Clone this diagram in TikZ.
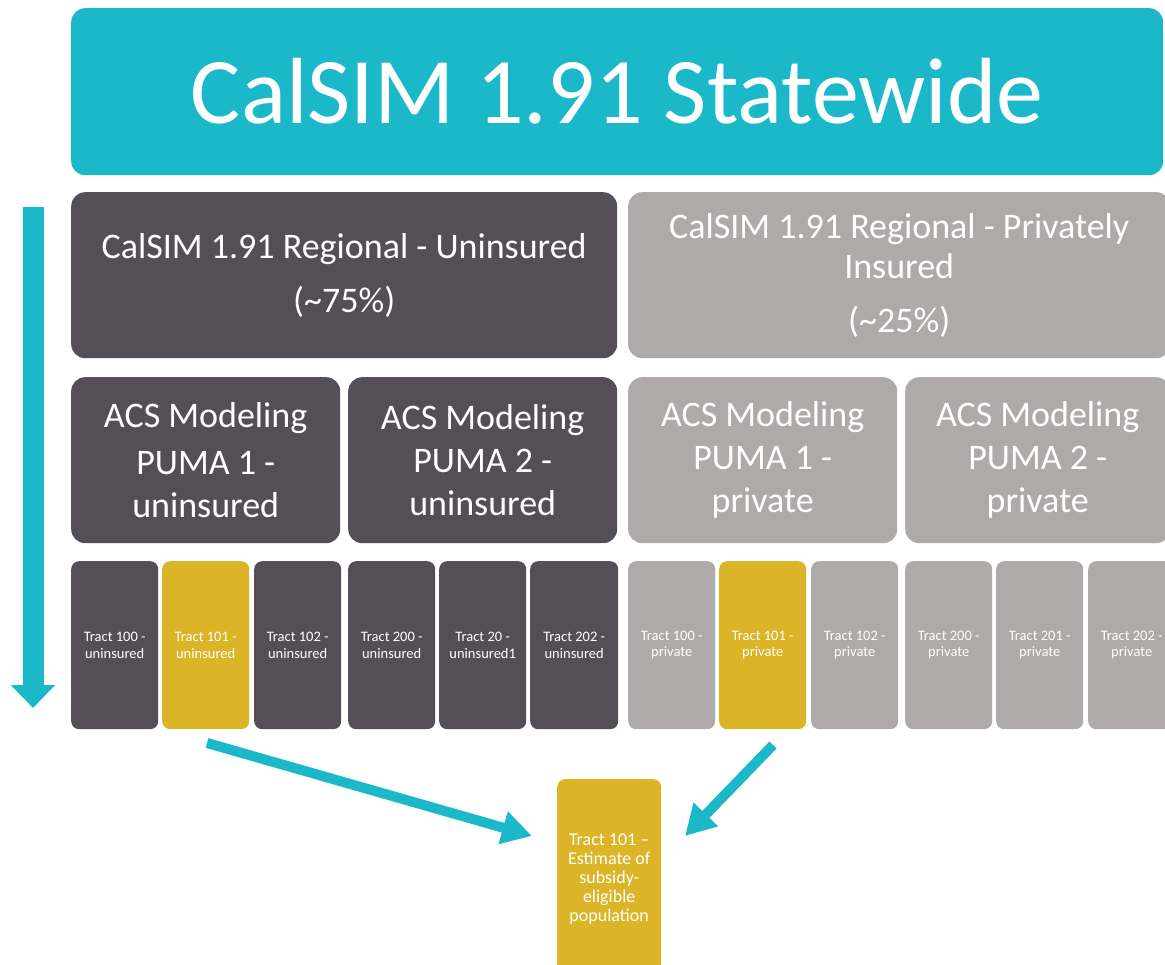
\documentclass[tikz,border=0pt]{standalone}
\usepackage{fontspec}
\setmainfont{Carlito}
\usetikzlibrary{arrows.meta}
\definecolor{teal}{HTML}{1BB8C9}
\definecolor{darkbox}{HTML}{544E56}
\definecolor{graybox}{HTML}{ADAAA9}
\definecolor{gold}{HTML}{DBB527}
\tikzset{
  box/.style={anchor=north west, rounded corners=14pt, text=white, align=center, inner sep=0pt},
  tract/.style={box, rounded corners=8pt, minimum width=87pt, minimum height=168pt,
    font=\fontsize{14.5}{16.5}\selectfont},
  acs/.style={box, minimum width=269pt, minimum height=166pt, font=\fontsize{36}{43}\selectfont},
  reg/.style={box, minimum height=166pt, font=\fontsize{36}{40}\selectfont},
  flow/.style={draw=teal, line width=10pt, -{Triangle[length=30pt,width=32pt]}},
}
\begin{document}
\begin{tikzpicture}[x=1pt,y=-1pt]
\useasboundingbox (0,0) rectangle (1165,965);
\clip (0,0) rectangle (1165,965);
% title
\node[box, fill=teal, minimum width=1092pt, minimum height=167pt,
  font=\fontsize{94}{100}\selectfont] (title) at (71,8) {CalSIM 1.91 Statewide};
% regional
\node[reg, fill=darkbox, minimum width=546pt] (ru) at (71,192)
  {CalSIM 1.91 Regional - Uninsured\\[14pt](\textasciitilde75\%)};
\node[reg, fill=graybox, minimum width=542pt] (rp) at (628,192)
  {CalSIM 1.91 Regional - Privately\\Insured\\[14pt](\textasciitilde25\%)};
% ACS
\node[acs, fill=darkbox] (a1) at (71,377) {ACS Modeling\\[4pt]PUMA 1 -\\uninsured};
\node[acs, fill=darkbox] (a2) at (348,377) {ACS Modeling\\PUMA 2 -\\uninsured};
\node[acs, fill=graybox] (a3) at (628,377) {ACS Modeling\\PUMA 1 -\\private};
\node[acs, fill=graybox, minimum width=265pt] (a4) at (905,377) {ACS Modeling\\PUMA 2 -\\private};
% tracts
\node[tract, fill=darkbox] (t1) at (71,561) {Tract 100 -\\uninsured};
\node[tract, fill=gold] (t2) at (162,561) {Tract 101 -\\uninsured};
\node[tract, fill=darkbox] (t3) at (254,561) {Tract 102 -\\uninsured};
\node[tract, fill=darkbox] (t4) at (348,561) {Tract 200 -\\uninsured};
\node[tract, fill=darkbox] (t5) at (439,561) {Tract 20 -\\uninsured1};
\node[tract, fill=darkbox, minimum width=88pt] (t6) at (530,561) {Tract 202 -\\uninsured};
\node[tract, fill=graybox] (p1) at (628,561) {Tract 100 -\\private};
\node[tract, fill=gold] (p2) at (719,561) {Tract 101 -\\private};
\node[tract, fill=graybox] (p3) at (811,561) {Tract 102 -\\private};
\node[tract, fill=graybox] (p4) at (905,561) {Tract 200 -\\private};
\node[tract, fill=graybox] (p5) at (996,561) {Tract 201 -\\private};
\node[tract, fill=graybox] (p6) at (1088,561) {Tract 202 -\\private};
% result
\node[box, rounded corners=8pt, fill=gold, minimum width=104pt, minimum height=200pt,
  font=\fontsize{18}{18.8}\selectfont] (res) at (557,779)
  {Tract 101 –\\Estimate of\\subsidy-\\eligible\\population};
% arrows
\coordinate (vs) at (33,207);
\coordinate (ve) at (33,708);
\draw[draw=teal, line width=21pt, -{Triangle[length=23pt,width=43pt]}] (vs) -- (ve);
\coordinate (u1) at (207,743);
\coordinate (u2) at (532,836);
\draw[flow] (u1) -- (u2);
\coordinate (q1) at (773,745);
\coordinate (q2) at (685,836);
\draw[flow] (q1) -- (q2);
\end{tikzpicture}
\end{document}
